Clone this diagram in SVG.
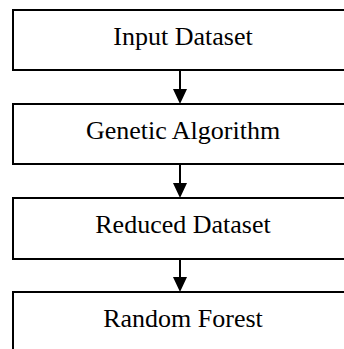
<svg xmlns="http://www.w3.org/2000/svg" width="344" height="349" viewBox="0 0 344 349">
<style>
.box{fill:#fff;stroke:#000;stroke-width:2}
.lbl{font-family:"Liberation Serif","Times New Roman",serif;font-size:26px;fill:#000;text-anchor:middle}
.edge{stroke:#000;stroke-width:2;fill:none}
.head{fill:#000;stroke:none}
</style>
<rect width="344" height="349" fill="#fff"/>
<g id="n1"><rect class="box" x="13" y="10" width="342" height="60"/><text class="lbl" x="183" y="45">Input Dataset</text></g>
<g id="n2"><rect class="box" x="13" y="104" width="342" height="60"/><text class="lbl" x="183" y="139">Genetic Algorithm</text></g>
<g id="n3"><rect class="box" x="13" y="198" width="342" height="61"/><text class="lbl" x="183" y="233">Reduced Dataset</text></g>
<g id="n4"><rect class="box" x="13" y="292" width="342" height="62"/><text class="lbl" x="183" y="327">Random Forest</text></g>
<g id="edges">
<line class="edge" x1="180" y1="70" x2="180" y2="90"/><polygon class="head" points="173,89 187,89 180,104"/>
<line class="edge" x1="180" y1="164" x2="180" y2="184"/><polygon class="head" points="173,183 187,183 180,198"/>
<line class="edge" x1="180" y1="259" x2="180" y2="278"/><polygon class="head" points="173,277 187,277 180,292"/>
</g>
</svg>
